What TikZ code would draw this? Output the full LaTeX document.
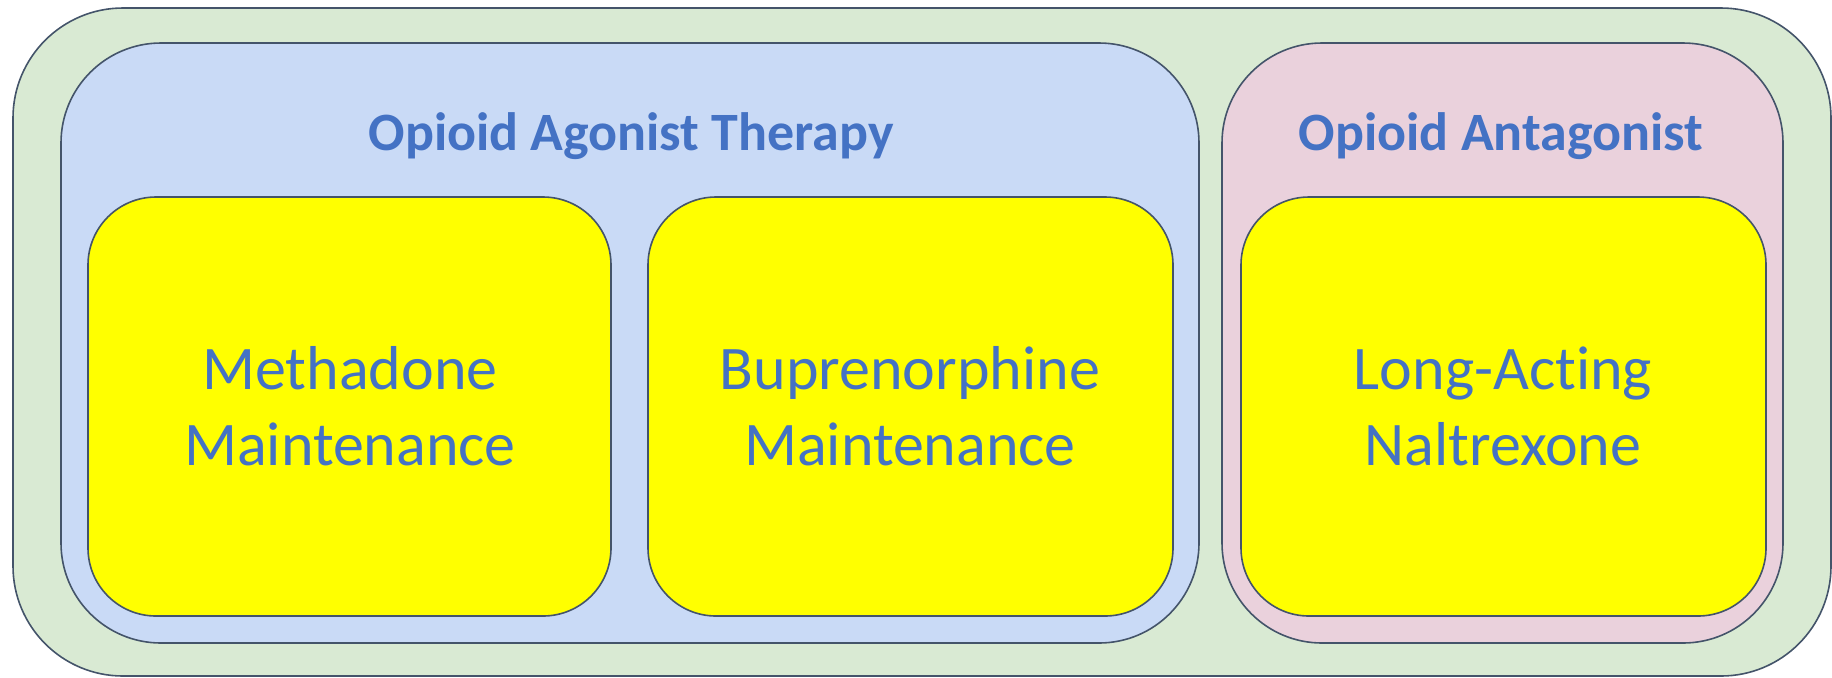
\documentclass[tikz,border=0pt]{standalone}
\usepackage{fontspec}
\setmainfont[Ligatures=NoCommon, RawFeature={-liga;-clig;-calt}]{Carlito}
\definecolor{outerfill}{HTML}{D9EAD3}
\definecolor{bluefill}{HTML}{C9DAF6}
\definecolor{pinkfill}{HTML}{EAD1DC}
\definecolor{boxyellow}{HTML}{FFFF00}
\definecolor{txtblue}{HTML}{4472C4}
\definecolor{edgecol}{HTML}{44546A}
\tikzset{
  panel/.style={draw=edgecol, line width=0.8pt, rounded corners=#1},
  yellowbox/.style={draw=edgecol, line width=0.8pt, fill=boxyellow, rounded corners=34pt},
  boxtext/.style={text=txtblue, align=center, font=\fontsize{31}{38}\selectfont, inner sep=0pt},
  titletext/.style={text=txtblue, font=\fontsize{27}{32}\selectfont\bfseries, inner sep=0pt, anchor=base}
}
\begin{document}
\begin{tikzpicture}[x=0.5pt, y=-0.5pt]
\useasboundingbox (0,0) rectangle (1832,677);
\draw[panel=55pt, fill=outerfill] (13,8) rectangle (1831,676);
\draw[panel=50pt, fill=bluefill] (61,43) rectangle (1199,643);
\draw[panel=50pt, fill=pinkfill] (1222,43) rectangle (1783,643);
\node[titletext] (t1) at (631,150) {Opioid Agonist Therapy};
\node[titletext] (t2) at (1501,150) {Opioid Antagonist};
\draw[yellowbox] (88,197) rectangle (611,616);
\draw[yellowbox] (648,197) rectangle (1173,616);
\draw[yellowbox] (1241,197) rectangle (1766,616);
\node[boxtext] (m) at (350,406) {Methadone\\Maintenance};
\node[boxtext] (b) at (910,406) {Buprenorphine\\Maintenance};
\node[boxtext] (n) at (1503,406) {Long-Acting\\Naltrexone};
\end{tikzpicture}
\end{document}
